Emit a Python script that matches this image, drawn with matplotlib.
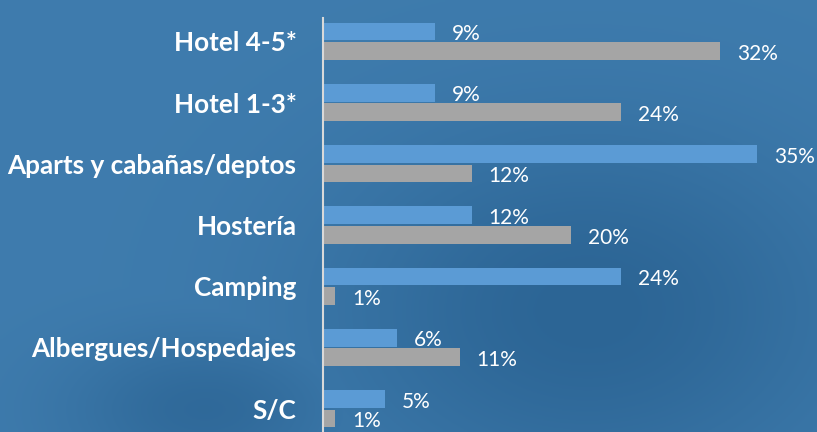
import numpy as np
import matplotlib.pyplot as plt

categories = ['Hotel 4-5*', 'Hotel 1-3*', 'Aparts y cabañas/deptos', 'Hostería',
              'Camping', 'Albergues/Hospedajes', 'S/C']
serie_azul = [9, 9, 35, 12, 24, 6, 5]
serie_gris = [32, 24, 12, 20, 1, 11, 1]

fig = plt.figure(figsize=(8.17, 4.32), dpi=100)

# background: blue gradient, lighter on the left and top, darker in the middle
bg = fig.add_axes([0, 0, 1, 1])
yy, xx = np.mgrid[0:1:200j, 0:1:400j]
light = np.array([0x42, 0x80, 0xb2]) / 255
dark = np.array([0x2c, 0x65, 0x95]) / 255
d1 = np.exp(-((xx - 0.72) ** 2 / 0.10 + (yy - 0.72) ** 2 / 0.18))
d2 = np.exp(-((xx - 0.25) ** 2 / 0.03 + (yy - 0.95) ** 2 / 0.03))
t = np.clip(0.15 + 0.85 * np.maximum(d1, 0.8 * d2), 0, 1)
img = light[None, None, :] * (1 - t[..., None]) + dark[None, None, :] * t[..., None]
bg.imshow(img, aspect='auto', extent=[0, 1, 0, 1], origin='upper')
bg.axis('off')

ax = fig.add_axes([323 / 817, 0, 494 / 817, 414 / 432])
ax.patch.set_alpha(0)
y = np.arange(len(categories))
h = 0.29
ax.barh(y - h / 2 - 0.015, serie_azul, height=h, color='#5b9bd5')
ax.barh(y + h / 2 + 0.015, serie_gris, height=h, color='#a5a5a5')

for i in range(len(categories)):
    ax.text(serie_azul[i] + 1.35, y[i] - h / 2 + 0.03, f'{serie_azul[i]}%', color='white',
            fontsize=15, family='Lato', va='center', ha='left')
    ax.text(serie_gris[i] + 1.35, y[i] + h / 2 + 0.06, f'{serie_gris[i]}%', color='white',
            fontsize=15, family='Lato', va='center', ha='left')

ax.set_xlim(0, 39.8)
ax.set_ylim(6.38, -0.38)
ax.set_yticks(y)
ax.set_yticklabels(categories, color='white', fontsize=18.8, fontweight='bold', family='Lato')
ax.tick_params(axis='y', length=0, pad=19)
ax.set_xticks([])
for s in ['top', 'right', 'bottom']:
    ax.spines[s].set_visible(False)
ax.spines['left'].set_color('#d9d9d9')
ax.spines['left'].set_linewidth(1.5)

fig.savefig('out.png', dpi=100)
